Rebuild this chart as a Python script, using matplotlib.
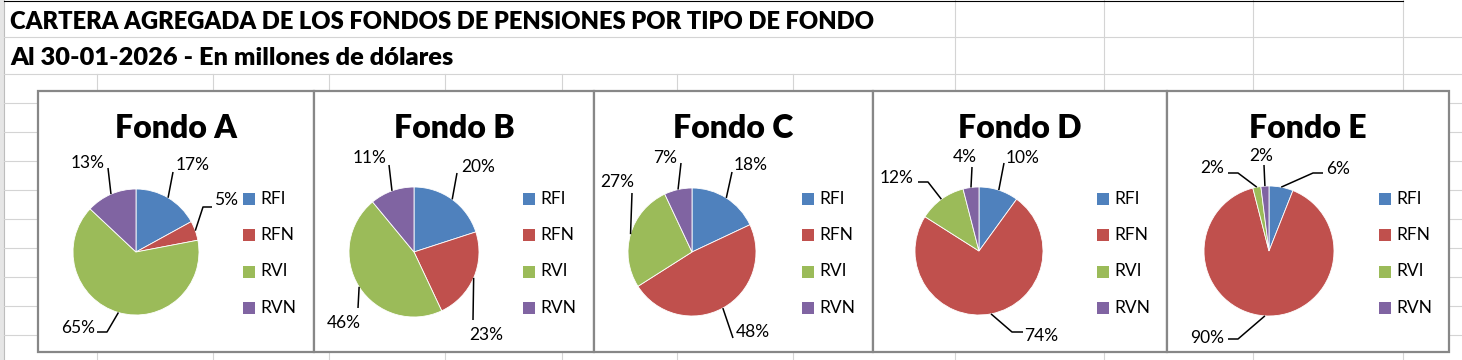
import matplotlib
matplotlib.use("Agg")
import numpy as np
import matplotlib.pyplot as plt
from matplotlib.patches import Rectangle

plt.rcParams["font.family"] = ["Lato", "DejaVu Sans"]

# ---- data (percent of each fund's portfolio) ----
tipos = ["RFI", "RFN", "RVI", "RVN"]
fondos = ["Fondo A", "Fondo B", "Fondo C", "Fondo D", "Fondo E"]
fondo_a = [17, 5, 65, 13]
fondo_b = [20, 23, 46, 11]
fondo_c = [18, 48, 27, 7]
fondo_d = [10, 74, 12, 4]
fondo_e = [6, 90, 2, 2]
valores = [fondo_a, fondo_b, fondo_c, fondo_d, fondo_e]

titulo = "CARTERA AGREGADA DE LOS FONDOS DE PENSIONES POR TIPO DE FONDO"
subtitulo = "Al 30-01-2026 - En millones de dólares"

COLORS = ["#4F81BD", "#C0504D", "#9BBB59", "#8064A2"]
GRID = "#d4d4d4"
BORDER = "#878787"

W, H = 1462, 360


def fy(y):
    # layout is measured from the top of the picture
    return H - y


# ---- layout (pixels) ----
boxes = [(38, 314), (314, 594), (594, 873), (873, 1167), (1167, 1449)]
box_top, box_bot = 91, 352
centers = [(136, 252), (414, 252), (692, 252), (979, 251), (1269, 251)]
radii = [63, 65, 64, 64, 65]
legend_x = [243, 523, 802, 1097, 1379]
legend_y = [198.5, 235, 271.5, 308]
# label text centre and leader-line points near the label (pie end comes from the wedge)
labels = [
    [((193, 165), [(173, 172)]), ((226, 200), [(212, 207), (203, 207)]),
     ((78, 328), [(97, 332), (107, 332)]), ((88, 163), [(108, 168)])],
    [((478, 167), [(457, 173)]), ((486, 335), [(473, 320)]),
     ((344, 323), [(358, 308)]), ((370, 158), [(389, 165)])],
    [((751, 165), [(732, 172)]), ((753, 332), [(733, 338)]),
     ((617, 182), [(632, 193)]), ((665, 158), [(681, 163)])],
    [((1023, 158), [(1004, 163)]), ((1041, 336), [(1023, 332), (1012, 332)]),
     ((897, 178), [(918, 182), (928, 182)]), ((965, 157), [(972, 167)])],
    [((1338, 169), [(1323, 173), (1313, 173)]), ((1207, 338), [(1228, 339), (1238, 339)]),
     ((1212, 168), [(1228, 173), (1238, 173)]), ((1261, 156), [(1264, 165)])],
]

fig = plt.figure(figsize=(W / 100, H / 100), dpi=100)
ax = fig.add_axes([0, 0, 1, 1])

# ---- spreadsheet background ----
ax.add_patch(Rectangle((0, 0), 4, H, fc="#e6e6e6", ec="none", zorder=0))
ax.plot([4, 4], [0, H], color="#bdbdbd", lw=0.8, zorder=0)
for y in [37, 74, 103, 132, 161, 190, 219, 248, 277, 306, 335]:
    ax.plot([4, W], [fy(y), fy(y)], color=GRID, lw=0.8, zorder=0)
for x in [97, 213, 329, 445, 562, 677, 793]:
    ax.plot([x, x], [fy(74), 0], color=GRID, lw=0.8, zorder=0)
for x in [955, 1104, 1253, 1403]:
    ax.plot([x, x], [H, 0], color=GRID, lw=0.8, zorder=0)
ax.plot([4, 1403], [fy(0.5), fy(0.5)], color="black", lw=0.8, zorder=0)

ax.text(10, fy(29), titulo, fontsize=17.1, fontweight="heavy", color="black", va="baseline")
ax.text(10, fy(65), subtitulo, fontsize=18.3, fontweight="heavy", color="black", va="baseline")

# ---- charts ----
for i, vals in enumerate(valores):
    x0, x1 = boxes[i]
    ax.add_patch(Rectangle((x0, fy(box_bot)), x1 - x0, box_bot - box_top,
                           fc="white", ec=BORDER, lw=1.6, zorder=1))
    ax.text((x0 + x1) / 2, fy(138), fondos[i], fontsize=23, fontweight="heavy",
            ha="center", va="baseline", zorder=5)

    cx, cy = centers[i]
    r = radii[i]
    wedges, _ = ax.pie(vals, colors=COLORS, startangle=90, counterclock=False,
                       center=(cx, fy(cy)), radius=r,
                       wedgeprops=dict(edgecolor="white", linewidth=0.6, zorder=3))

    for w, v, (tpos, pts) in zip(wedges, vals, labels[i]):
        mid = np.deg2rad((w.theta1 + w.theta2) / 2)
        end = (cx + r * np.cos(mid), fy(cy) + r * np.sin(mid))
        xs = [p[0] for p in pts] + [end[0]]
        ys = [fy(p[1]) for p in pts] + [end[1]]
        ax.plot(xs, ys, color="black", lw=1.1, zorder=4, solid_capstyle="butt")
        ax.text(tpos[0], fy(tpos[1]), f"{v:.0f}%", fontsize=12.5,
                ha="center", va="center", zorder=5)

    for k, t in enumerate(tipos):
        ly = legend_y[k]
        ax.add_patch(Rectangle((legend_x[i], fy(ly + 6)), 12, 12,
                               fc=COLORS[k], ec="none", zorder=4))
        ax.text(legend_x[i] + 17, fy(ly), t, fontsize=12.5, ha="left",
                va="center", zorder=5)

ax.set_xlim(0, W)
ax.set_ylim(0, H)
ax.set_aspect("auto")
ax.axis("off")

fig.savefig("out.png", dpi=100, facecolor="white")
